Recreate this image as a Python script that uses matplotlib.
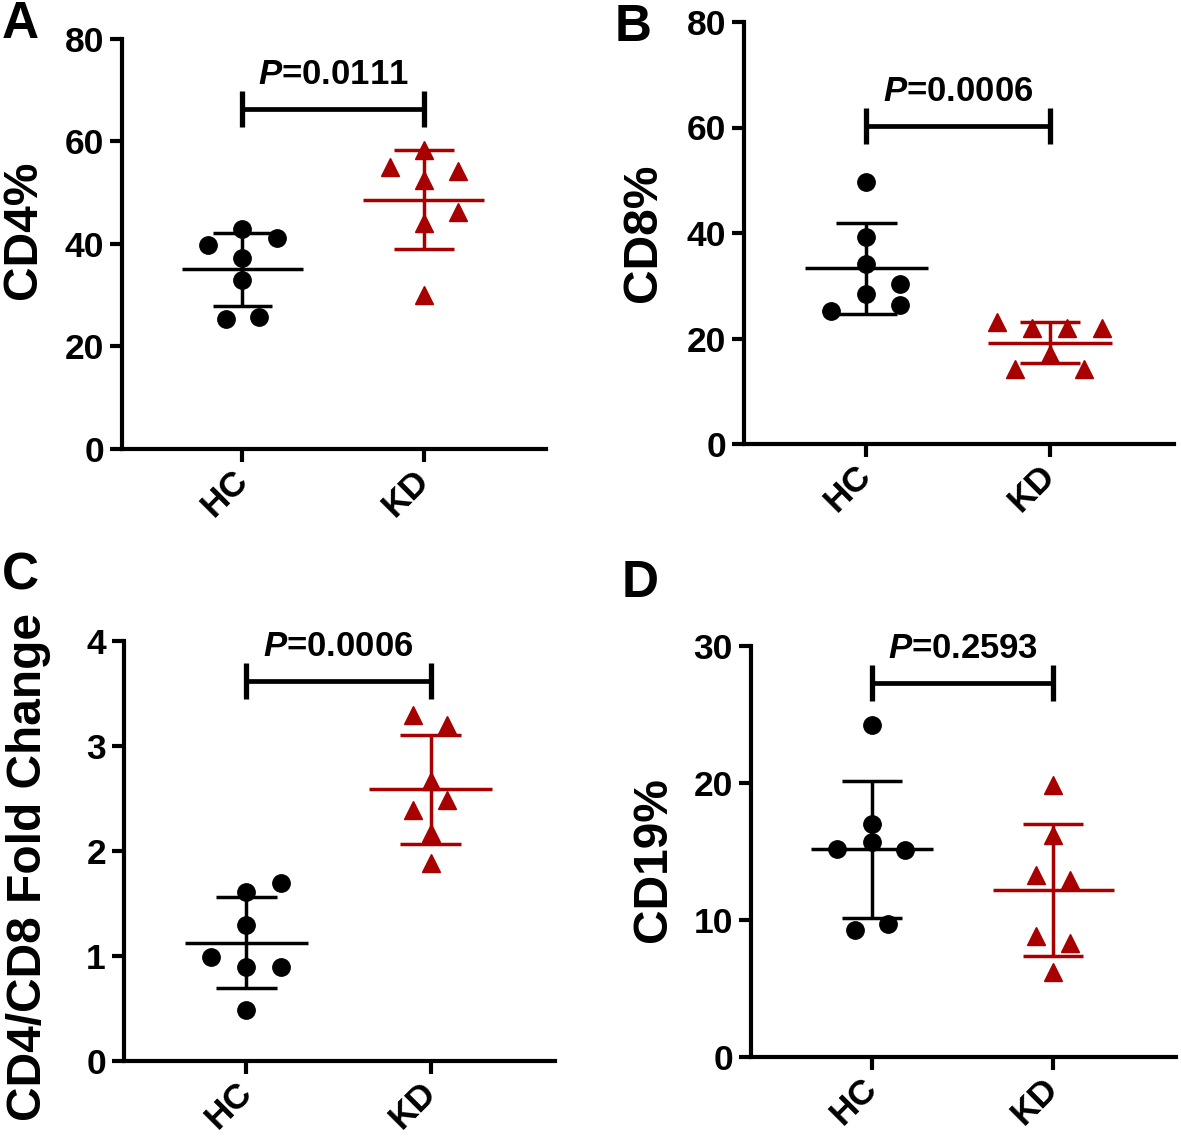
import numpy as np
import matplotlib
matplotlib.use('Agg')
import matplotlib.pyplot as plt

plt.rcParams['font.family'] = ['Liberation Sans', 'DejaVu Sans']
plt.rcParams['font.weight'] = 'bold'
plt.rcParams['mathtext.fontset'] = 'custom'
plt.rcParams['mathtext.rm'] = 'Liberation Sans:bold'
plt.rcParams['mathtext.it'] = 'Liberation Sans:italic:bold'
plt.rcParams['mathtext.bf'] = 'Liberation Sans:bold'
plt.rcParams['mathtext.bfit'] = 'Liberation Sans:italic:bold'

# ---------------- data ----------------
groups = ['HC', 'KD']
panel_letters = ['A', 'B', 'C', 'D']
y_labels = ['CD4%', 'CD8%', 'CD4/CD8 Fold Change', 'CD19%']
p_values = ['0.0111', '0.0006', '0.0006', '0.2593']
y_limits = [(0, 80), (0, 80), (0, 4), (0, 30)]
y_ticks = [[0, 20, 40, 60, 80], [0, 20, 40, 60, 80], [0, 1, 2, 3, 4], [0, 10, 20, 30]]

cd4_hc = [43.0, 41.1, 39.8, 37.2, 33.0, 25.7, 25.4]
cd4_kd = [58.4, 55.1, 54.2, 52.4, 46.2, 44.1, 30.0]
cd8_hc = [49.6, 39.2, 34.1, 30.3, 28.4, 26.4, 25.2]
cd8_kd = [23.2, 22.0, 22.0, 22.0, 17.0, 14.2, 14.2]
ratio_hc = [1.70, 1.61, 1.295, 0.99, 0.90, 0.90, 0.49]
ratio_kd = [3.295, 3.20, 2.67, 2.49, 2.39, 2.17, 1.89]
cd19_hc = [24.2, 17.0, 15.7, 15.2, 15.1, 9.7, 9.3]
cd19_kd = [19.85, 16.2, 13.3, 12.9, 8.8, 8.3, 6.2]

panel_data = [(cd4_hc, cd4_kd), (cd8_hc, cd8_kd), (ratio_hc, ratio_kd), (cd19_hc, cd19_kd)]

# ---------------- layout (positions only) ----------------
jitter = [
    ([0, 0.19, -0.19, 0, 0, 0.09, -0.09], [0, -0.185, 0.19, 0, 0.19, 0, 0]),
    ([0, 0, 0, 0.185, 0, 0.185, -0.19], [-0.286, -0.097, 0.092, 0.281, 0, -0.189, 0.184]),
    ([0.185, 0, 0, -0.19, 0, 0.185, 0], [-0.095, 0.09, 0, 0.09, -0.095, 0, 0]),
    ([0, 0, 0, -0.19, 0.185, 0.09, -0.095], [0, 0, -0.096, 0.092, -0.096, 0.092, 0]),
]
bracket_y = [66.3, 60.3, 3.62, 27.3]
W, H = 1181, 1143
# axes rects in pixels: left x, y of top, right x, y of bottom
axes_px = [(122, 39, 546, 449), (744, 22, 1174, 444), (124, 641, 555, 1061), (751, 646, 1176, 1057)]
letter_px = [(2, 0), (615, 3), (2, 551), (622, 559)]
ylabel_px = [(23, 230), (643, 233), (29, 867), (653, 860)]

colors = ['black', '#A80000']
markers = ['o', '^']
msizes = [12.5, 12.5]

fig = plt.figure(figsize=(W / 100, H / 100), dpi=100)

for k in range(4):
    x0, yt, x1, yb = axes_px[k]
    ax = fig.add_axes([x0 / W, 1 - yb / H, (x1 - x0) / W, (yb - yt) / H])
    for i in range(2):
        vals = np.array(panel_data[k][i], dtype=float)
        xc = i + 1
        m = vals.mean()
        sd = vals.std(ddof=1)
        c = colors[i]
        ax.hlines(m, xc - 0.335, xc + 0.335, color=c, lw=2.5, zorder=2)
        ax.hlines([m - sd, m + sd], xc - 0.165, xc + 0.165, color=c, lw=2.5, zorder=2)
        ax.vlines(xc, m - sd, m + sd, color=c, lw=2.5, zorder=2)
        ax.plot(xc + np.array(jitter[k][i]), vals, ls='none', marker=markers[i],
                ms=msizes[i], color=c, mec=c, zorder=3, clip_on=False)
    # significance bracket
    b = bracket_y[k]
    ax.plot([1, 2], [b, b], color='black', lw=3.4, solid_capstyle='butt', clip_on=False)
    ax.plot([1, 2], [b, b], ls='none', marker='|', ms=26, mew=3.8, color='black', clip_on=False)
    ax.annotate(r'$\mathbfit{P}$=' + p_values[k], xy=(1.5, b), xytext=(0, 25),
                textcoords='offset points', ha='center', va='center',
                fontsize=25, fontweight='bold', annotation_clip=False)

    ax.set_xlim(0.335, 2.675)
    ax.set_ylim(*y_limits[k])
    ax.set_yticks(y_ticks[k])
    ax.set_yticklabels([str(t) for t in y_ticks[k]])
    ax.set_xticks([1, 2])
    ax.set_xticklabels(groups)
    for s in ['top', 'right']:
        ax.spines[s].set_visible(False)
    for s in ['left', 'bottom']:
        ax.spines[s].set_linewidth(3.0)
    ax.tick_params(axis='both', length=9, width=3.0, labelsize=25.5, direction='out')
    ax.tick_params(axis='y', pad=4)
    ax.tick_params(axis='x', pad=10)
    for lbl in ax.get_xticklabels():
        lbl.set_rotation(45)
        lbl.set_ha('right')
        lbl.set_va('center')
        lbl.set_rotation_mode('anchor')
        lbl.set_fontweight('bold')
    for lbl in ax.get_yticklabels():
        lbl.set_fontweight('bold')

    lx, ly = letter_px[k]
    fig.text(lx / W, 1 - ly / H, panel_letters[k], fontsize=37, fontweight='bold',
             ha='left', va='top')
    yx, yy = ylabel_px[k]
    fig.text(yx / W, 1 - yy / H, y_labels[k], fontsize=34.5, fontweight='bold',
             rotation=90, ha='center', va='center')

fig.savefig('out.png', dpi=100)
